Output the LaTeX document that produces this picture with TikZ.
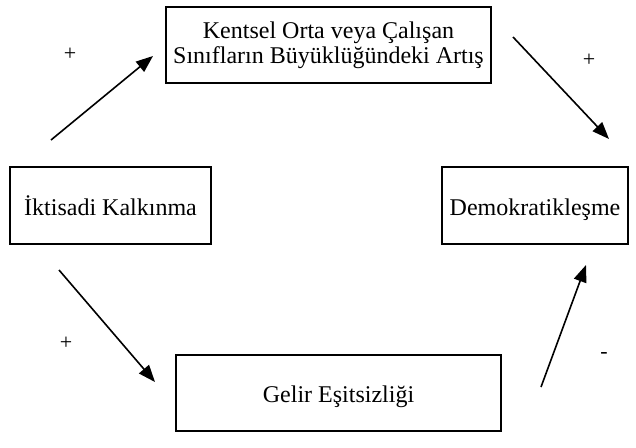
\documentclass[tikz,border=0pt]{standalone}
\usepackage{fontspec}
\setmainfont{Liberation Serif}
\usetikzlibrary{arrows.meta}
\tikzset{
  box/.style={draw=black, line width=2pt, inner sep=0pt, align=center,
    font=\fontsize{24}{25}\selectfont},
  onebox/.style={box, text height=19pt, text depth=0pt},
  conn/.style={line width=1.6pt, -{Triangle[length=17pt,width=13pt]}},
  sign/.style={font=\fontsize{22}{24}\selectfont, inner sep=0pt}
}
\begin{document}
\begin{tikzpicture}[x=1pt,y=-1pt]
\useasboundingbox (0,0) rectangle (636,447);
\node[box, minimum width=325pt, minimum height=76pt] (top) at (328.5,45) {Kentsel Orta veya Çalışan\\Sınıfların Büyüklüğündeki Artış};
\node[onebox, minimum width=201pt, minimum height=77pt] (left) at (110.5,205.5) {İktisadi Kalkınma};
\node[onebox, minimum width=186pt, minimum height=77pt] (right) at (535,205.5) {Demokratikleşme};
\node[onebox, minimum width=325pt, minimum height=76pt] (bottom) at (338.5,393) {Gelir Eşitsizliği};
\coordinate (a1s) at (51,140);
\coordinate (a1e) at (153,56);
\coordinate (a2s) at (513,37);
\coordinate (a2e) at (609,139);
\coordinate (a3s) at (59,270);
\coordinate (a3e) at (155,382);
\coordinate (a4s) at (541,387);
\coordinate (a4e) at (586,265);
\draw[conn] (a1s) -- (a1e);
\draw[conn] (a2s) -- (a2e);
\draw[conn] (a3s) -- (a3e);
\draw[conn] (a4s) -- (a4e);
\node[sign] (s1) at (70,54) {+};
\node[sign] (s2) at (589,60) {+};
\node[sign] (s3) at (66,343) {+};
\node[sign] (s4) at (604,355) {-};
\end{tikzpicture}
\end{document}
